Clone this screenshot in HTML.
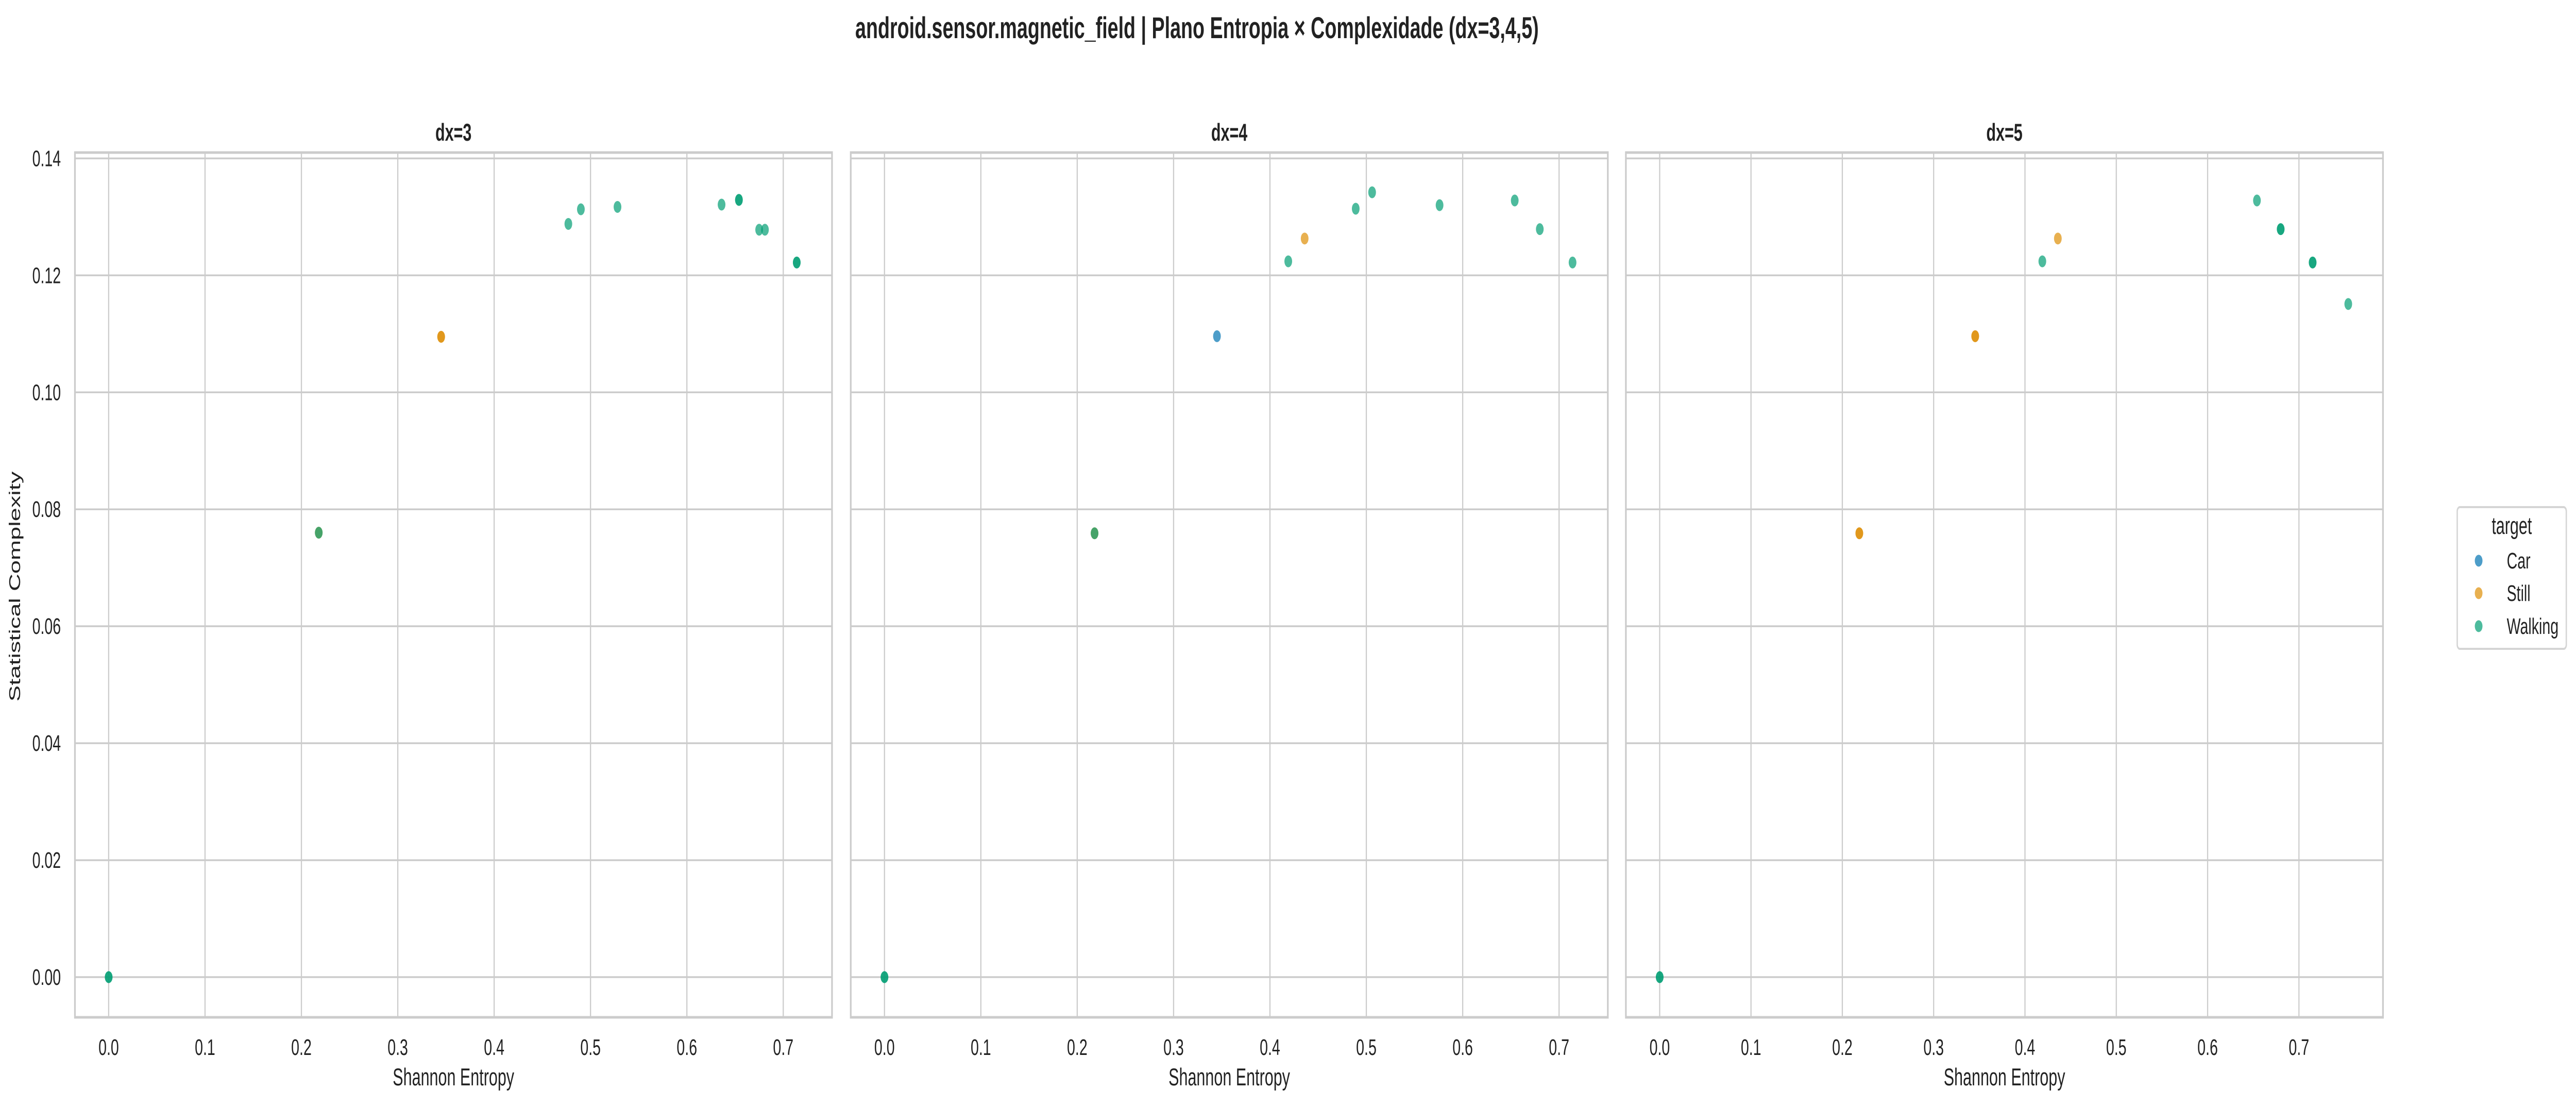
<!DOCTYPE html>
<html><head><meta charset="utf-8">
<style>
html,body{margin:0;padding:0;background:#fff;overflow:hidden;}
svg{display:block;width:100vw;height:100vh;font-family:"Liberation Sans",Arial,sans-serif;}
</style></head>
<body>
<svg id="fig" viewBox="0 0 7700 2148" preserveAspectRatio="none" xmlns="http://www.w3.org/2000/svg">
<rect width="7700" height="2148" fill="#fff"/>
<text x="3578" y="74" text-anchor="middle" font-size="58" font-weight="bold" fill="#222">android.sensor.magnetic_field | Plano Entropia × Complexidade (dx=3,4,5)</text>
<text transform="translate(60,1138) rotate(-90)" text-anchor="middle" font-size="47" fill="#222">Statistical Complexity</text>
<g id="panels"></g>
<g>
  <rect x="7345" y="984" width="326" height="275" rx="8" fill="#fff" stroke="#d5d5d5" stroke-width="4"/>
  <text x="7508" y="1036" text-anchor="middle" font-size="47" fill="#222">target</text>
  <g><circle cx="7409" cy="1088" r="11.5" fill="#0173b2" fill-opacity="0.7"/><text x="7493" y="1103" font-size="44" fill="#222">Car</text></g>
  <g><circle cx="7409" cy="1151" r="11.5" fill="#de8f05" fill-opacity="0.7"/><text x="7493" y="1166" font-size="44" fill="#222">Still</text></g>
  <g><circle cx="7409" cy="1215" r="11.5" fill="#029e73" fill-opacity="0.7"/><text x="7493" y="1230" font-size="44" fill="#222">Walking</text></g>
</g>
</svg>
<script>
const panelTitles = ["dx=3","dx=4","dx=5"];
const xTicks = [0,0.1,0.2,0.3,0.4,0.5,0.6,0.7];
const xTickLabels = ["0.0","0.1","0.2","0.3","0.4","0.5","0.6","0.7"];
const yTicks = [0,0.02,0.04,0.06,0.08,0.10,0.12,0.14];
const yTickLabels = ["0.00","0.02","0.04","0.06","0.08","0.10","0.12","0.14"];
const categories = ["Car","Still","Walking"];
const catColors = ["#0173b2","#de8f05","#029e73"];
// dx=3
const d3CarX = [];
const d3CarY = [];
const d3StillX = [0.218,0.345,0.345];
const d3StillY = [0.076,0.1095,0.1095];
const d3WalkX = [0,0,0.218,0.477,0.490,0.528,0.636,0.654,0.654,0.675,0.681,0.714,0.714];
const d3WalkY = [0,0,0.076,0.1288,0.1313,0.1317,0.1321,0.1329,0.1329,0.1278,0.1278,0.1222,0.1222];
// dx=4
const d4CarX = [0.345];
const d4CarY = [0.1096];
const d4StillX = [0.218,0.436];
const d4StillY = [0.0759,0.1263];
const d4WalkX = [0,0,0.218,0.419,0.489,0.506,0.576,0.654,0.680,0.714];
const d4WalkY = [0,0,0.0759,0.1224,0.1314,0.1342,0.1320,0.1328,0.1279,0.1222];
// dx=5
const d5CarX = [];
const d5CarY = [];
const d5StillX = [0.2186,0.2186,0.3455,0.3455,0.436];
const d5StillY = [0.0759,0.0759,0.1096,0.1096,0.1263];
const d5WalkX = [0,0,0.419,0.654,0.680,0.680,0.715,0.715,0.754];
const d5WalkY = [0,0,0.1224,0.1328,0.1279,0.1279,0.1222,0.1222,0.1151];
const xRanges = [[-0.035,0.7506],[-0.035,0.7506],[-0.037,0.792]];
const yRange = [-0.00687,0.141];
const panelData = [
  [[d3CarX,d3CarY],[d3StillX,d3StillY],[d3WalkX,d3WalkY]],
  [[d4CarX,d4CarY],[d4StillX,d4StillY],[d4WalkX,d4WalkY]],
  [[d5CarX,d5CarY],[d5StillX,d5StillY],[d5WalkX,d5WalkY]]
];
(function(){
const NS="http://www.w3.org/2000/svg";
const lefts=[224,2543,4860], W=2263, plotTop=296, plotBot=1974;
const root=document.getElementById('panels');
function mk(tag,attrs,parent){const e=document.createElementNS(NS,tag);for(const k in attrs)e.setAttribute(k,attrs[k]);parent.appendChild(e);return e;}
panelTitles.forEach((t,p)=>{
  const L=lefts[p], R=L+W, xr=xRanges[p];
  const sx=v=>L+(v-xr[0])/(xr[1]-xr[0])*W;
  const sy=v=>plotBot-(v-yRange[0])/(yRange[1]-yRange[0])*(plotBot-plotTop);
  const g=mk('g',{},root);
  
  
  xTicks.forEach((v,i)=>{
    const ln=mk('line',{x1:sx(v),x2:sx(v),y1:plotTop,y2:plotBot,stroke:'#cccccc','stroke-width':3.5},g);
    
    
    const tx=mk('text',{x:sx(v),y:2047,'text-anchor':'middle','font-size':44,fill:'#222'},g);
    
    
    tx.textContent=xTickLabels[i];
  });
  yTicks.forEach((v,i)=>{
    const ln=mk('line',{x1:L,x2:R,y1:sy(v),y2:sy(v),stroke:'#cccccc','stroke-width':3.5},g);
    
    
    if(p===0){
      const tx=mk('text',{x:182,y:sy(v)+15,'text-anchor':'end','font-size':44,fill:'#222'},g);
      
      
      tx.textContent=yTickLabels[i];
    }
  });
  const fr=mk('rect',{x:L,y:plotTop,width:W,height:plotBot-plotTop,fill:'none',stroke:'#cccccc','stroke-width':5},g);
  
  
  const ti=mk('text',{x:L+W/2,y:273,'text-anchor':'middle','font-size':47,'font-weight':'bold',fill:'#222'},g);
  
  
  ti.textContent=t;
  const xl=mk('text',{x:L+W/2,y:2106,'text-anchor':'middle','font-size':47,fill:'#222'},g);
  
  
  xl.textContent='Shannon Entropy';
  panelData[p].forEach((s,c)=>{
    s[0].forEach((xv,k)=>{
      const pt=mk('circle',{cx:sx(xv),cy:sy(s[1][k]),r:11.5,fill:catColors[c],'fill-opacity':0.7},g);
      
      
    });
  });
});
})();
</script>
</body></html>
